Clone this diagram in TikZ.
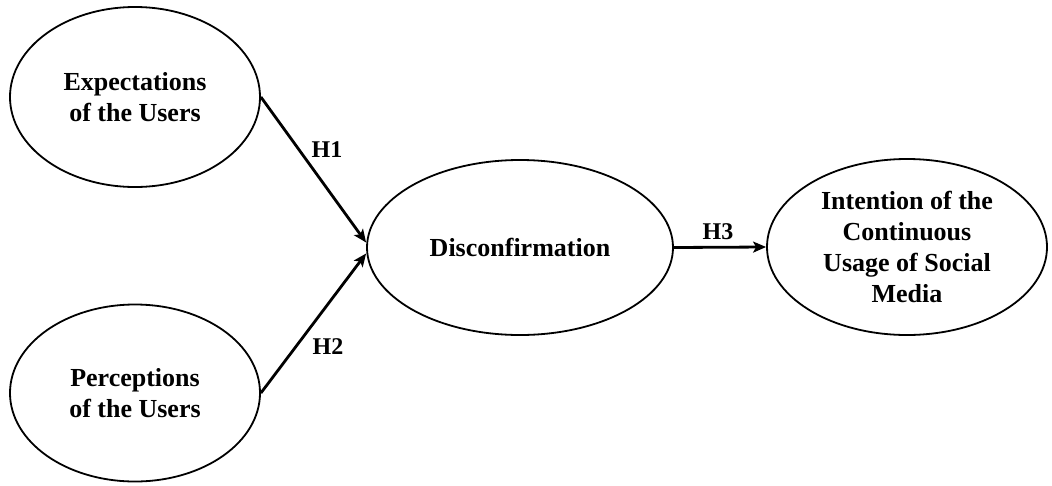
\documentclass[tikz,border=0pt]{standalone}
\usepackage{fontspec}
\setmainfont{Liberation Serif}
\usetikzlibrary{shapes.geometric,arrows.meta,calc}
\tikzset{
  construct/.style={ellipse, draw=black, line width=1.8pt, inner sep=0pt, align=center,
    font=\bfseries\fontsize{26}{31}\selectfont},
  path/.style={line width=2.8pt, -{Stealth[length=13pt,width=11pt,inset=3pt]}},
  hyp/.style={font=\bfseries\fontsize{24}{28}\selectfont, inner sep=0pt}
}
\begin{document}
\begin{tikzpicture}[x=1pt,y=-1pt]
\useasboundingbox (0,0) rectangle (1052,485);
\node[construct, minimum width=250pt, minimum height=180pt] (exp) at (135,97) {Expectations\\of the Users};
\node[construct, minimum width=250pt, minimum height=177pt] (per) at (135,393) {Perceptions\\of the Users};
\node[construct, minimum width=306pt, minimum height=175pt] (dis) at (520,247.5) {Disconfirmation};
\node[construct, minimum width=280pt, minimum height=176pt] (int) at (907,247) {Intention of the\\Continuous\\Usage of Social\\Media};
\coordinate (dtop) at ($(dis.west)+(0,-5)$);
\coordinate (dbot) at ($(dis.west)+(0,6)$);
\draw[path] (exp.east) -- (dtop);
\draw[path] (per.east) -- (dbot);
\draw[path] (dis.east) -- (int.west);
\node[hyp] (h1) at (327,150) {H1};
\node[hyp] (h2) at (328,347) {H2};
\node[hyp] (h3) at (718,232) {H3};
\end{tikzpicture}
\end{document}
